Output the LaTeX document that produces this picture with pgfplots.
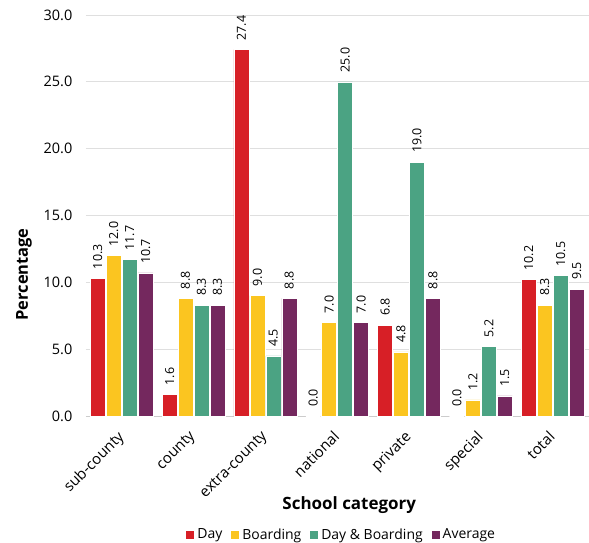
\documentclass[border=0pt]{standalone}
\usepackage{pgfplots}
\pgfplotsset{compat=1.18}
\usepackage{fontspec}
\setmainfont{Open Sans}
\definecolor{cday}{HTML}{D71F26}
\definecolor{cboard}{HTML}{FBC520}
\definecolor{cboth}{HTML}{4BA383}
\definecolor{cavg}{HTML}{74285E}
\begin{document}
\begin{tikzpicture}
\begin{axis}[
  name=main,
  scale only axis,
  width=504pt, height=402pt,
  ybar=1pt, bar width=15pt,
  xmin=-0.5, xmax=6.5,
  ymin=0, ymax=30,
  xtick=data,
  xticklabels={sub-county,county,extra-county,national,private,special,total},
  x tick label style={xshift=-5pt, yshift=-13.5pt, rotate=45, anchor=north east, font=\fontsize{15}{17}\selectfont, inner sep=0pt},
  ytick={0,5,...,30},
  y tick label style={font=\fontsize{14.5}{16}\selectfont, xshift=-10pt},
  /pgf/number format/assume math mode=true,
  yticklabel style={/pgf/number format/.cd, fixed, fixed zerofill, precision=1},
  ymajorgrids,
  major grid style={gray!25, line width=0.8pt},
  axis x line*=bottom,
  axis y line*=left,
  y axis line style={draw=none},
  x axis line style={gray!40, line width=0.8pt},
  major tick length=0pt,
  ylabel={\bfseries Percentage},
  ylabel style={font=\fontsize{16.5}{18}\selectfont, at={(axis description cs:-0.123,0.353)}, anchor=center},
  xlabel={\bfseries School category},
  xlabel style={font=\fontsize{17}{19}\selectfont, at={(axis description cs:0.524,-0.221)}, anchor=center},
  nodes near coords,
  nodes near coords style={rotate=90, anchor=west, font=\fontsize{12.5}{14}\selectfont, inner xsep=9pt, inner ysep=0pt,
    /pgf/number format/.cd, fixed, fixed zerofill, precision=1, assume math mode=true},
  every axis plot/.append style={draw=white, line width=0.6pt},
  legend style={at={(0.509,-0.296)}, anchor=center, draw=none, legend columns=4,
    font=\fontsize{14}{16}\selectfont, inner sep=0pt,
    /tikz/every odd column/.append style={column sep=1pt},
    /tikz/every even column/.append style={column sep=7pt}},
  legend image code/.code={\fill[#1, draw=none] (0pt,-4pt) rectangle (8pt,4pt);},
]
\addplot[fill=cday] coordinates {(0,10.3) (1,1.6) (2,27.4) (3,0.0) (4,6.8) (5,0.0) (6,10.2)};
\addplot[fill=cboard] coordinates {(0,12.0) (1,8.8) (2,9.0) (3,7.0) (4,4.8) (5,1.2) (6,8.3)};
\addplot[fill=cboth] coordinates {(0,11.7) (1,8.3) (2,4.5) (3,25.0) (4,19.0) (5,5.2) (6,10.5)};
\addplot[fill=cavg] coordinates {(0,10.7) (1,8.3) (2,8.8) (3,7.0) (4,8.8) (5,1.5) (6,9.5)};
\legend{Day, Boarding, Day \& Boarding, Average}
\end{axis}
% page margins around the plot area
\path (main.south west) ++(-86pt,-127pt) (main.north east) ++(0pt,15pt);
\end{tikzpicture}
\end{document}
